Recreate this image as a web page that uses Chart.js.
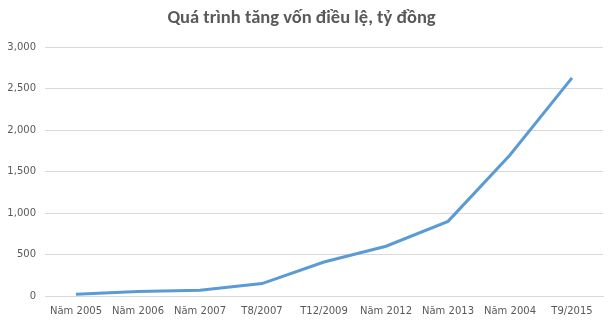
<!DOCTYPE html>
<html>
<head>
<meta charset="utf-8">
<script src="https://cdn.jsdelivr.net/npm/chart.js@4/dist/chart.umd.min.js"></script>
<style>
  html, body { margin: 0; padding: 0; background: #fff; }
  #wrap { width: 615px; height: 325px; }
</style>
</head>
<body>
<div id="wrap"><canvas id="myChart" width="615" height="325"></canvas></div>
<script>
const labels = ["Năm 2005", "Năm 2006", "Năm 2007", "T8/2007", "T12/2009", "Năm 2012", "Năm 2013", "Năm 2004", "T9/2015"];
const von_dieu_le = [20, 55, 70, 150, 410, 600, 900, 1700, 2630];

var context = document.getElementById("myChart");
var myLineChart = new Chart(context, {
    type: 'line',
    data: {
        labels: labels,
        datasets: [{
            label: 'Vốn điều lệ',
            data: von_dieu_le,
            borderColor: '#5b9bd5',
            backgroundColor: '#5b9bd5',
            borderWidth: 3,
            pointRadius: 0,
            tension: 0
        }]
    },
    options: {
        responsive: false,
        animation: false,
        layout: { padding: { left: 0, right: 12, top: 0, bottom: 0 } },
        plugins: {
            legend: { display: false },
            tooltip: { enabled: false },
            title: {
                display: true,
                text: 'Quá trình tăng vốn điều lệ, tỷ đồng',
                color: '#595959',
                font: { family: 'Calibri, Carlito, "Open Sans", sans-serif', size: 18.5, weight: 'bold' },
                padding: { top: 7, bottom: 18 }
            }
        },
        scales: {
            x: {
                offset: true,
                grid: { display: false, drawTicks: false },
                border: { color: '#d9d9d9' },
                afterFit: function (scale) { scale.height = 29; },
                ticks: {
                    color: '#595959',
                    font: { family: '"DejaVu Sans", sans-serif', size: 10 },
                    maxRotation: 0,
                    autoSkip: false,
                    padding: 9
                }
            },
            y: {
                min: 0,
                max: 3000,
                grid: { color: '#d9d9d9', drawTicks: false },
                border: { display: false },
                afterFit: function (scale) { scale.width = 45; },
                ticks: {
                    stepSize: 500,
                    color: '#595959',
                    padding: 9,
                    font: { family: '"DejaVu Sans", sans-serif', size: 10 },
                    callback: function (v) { return v.toLocaleString('en-US'); }
                }
            }
        }
    }
});
</script>
</body>
</html>
